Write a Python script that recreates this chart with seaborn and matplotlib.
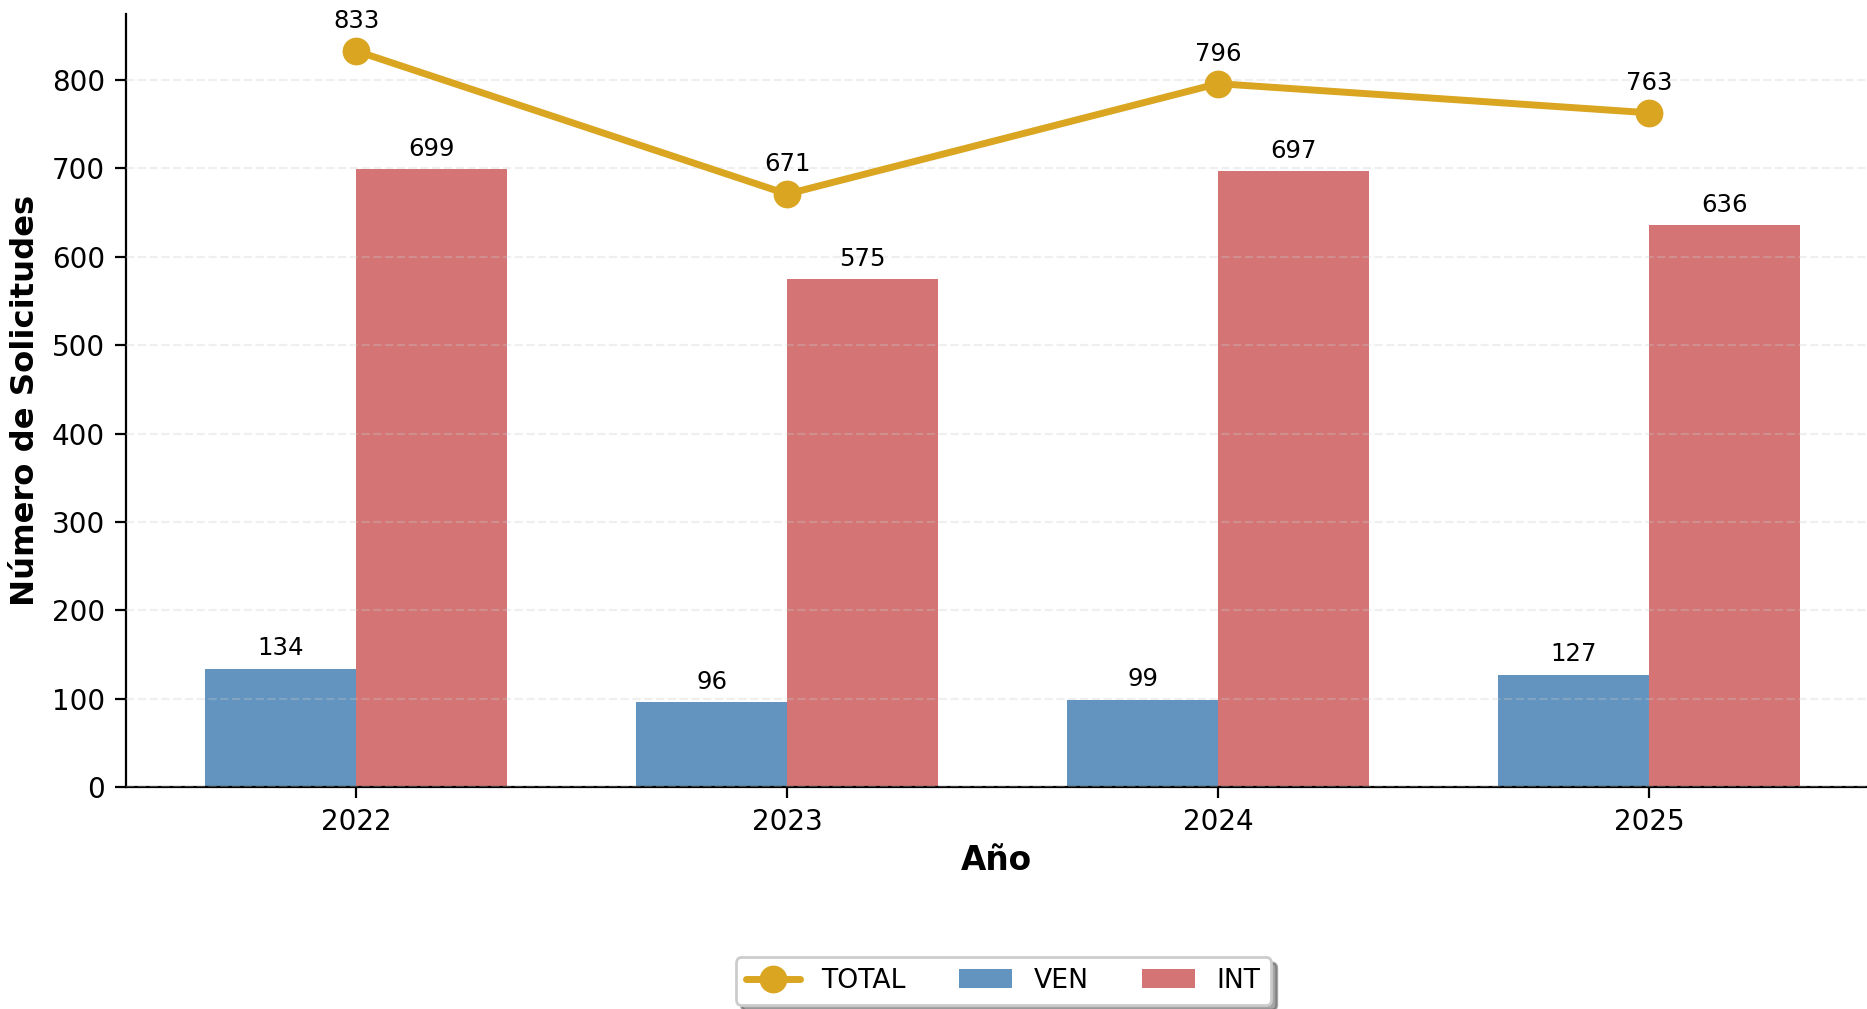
import numpy as np
import pandas as pd
import matplotlib
matplotlib.use("Agg")
import matplotlib.pyplot as plt
import seaborn as sns

# data
years = ["2022", "2023", "2024", "2025"]
ven = [134, 96, 99, 127]
intl = [699, 575, 697, 636]
total = [833, 671, 796, 763]

sns.set_style("white")
plt.rcParams["font.family"] = ["DejaVu Sans"]
plt.rcParams["text.color"] = "black"
plt.rcParams["axes.labelcolor"] = "black"
plt.rcParams["xtick.color"] = "black"
plt.rcParams["ytick.color"] = "black"
plt.rcParams["axes.edgecolor"] = "black"

df = pd.DataFrame({
    "Año": years * 2,
    "Tipo": ["VEN"] * 4 + ["INT"] * 4,
    "Solicitudes": ven + intl,
})

fig = plt.figure(figsize=(9.335, 5.045), dpi=200)
ax = fig.add_axes([0.0675, 0.22, 0.9325, 0.766])

sns.barplot(
    data=df,
    x="Año",
    y="Solicitudes",
    hue="Tipo",
    palette={"VEN": "steelblue", "INT": "indianred"},
    saturation=1,
    alpha=0.85,
    width=0.7,
    gap=0,
    linewidth=0,
    ax=ax,
)

sns.lineplot(
    x=np.arange(len(years)),
    y=total,
    color="#DAA520",
    linewidth=2.5,
    marker="o",
    markersize=10,
    markeredgewidth=0,
    label="TOTAL",
    ax=ax,
    zorder=5,
)

# labels on bars
for container in ax.containers:
    ax.bar_label(container, padding=3, fontsize=8.8)

# labels on total line
for i, v in enumerate(total):
    ax.annotate(str(v), (i, v), xytext=(0, 6.5), textcoords="offset points",
                ha="center", va="bottom", fontsize=8.8)

ax.set_xlim(-0.534, 3.506)
ax.set_ylim(0, 833 * 1.05)
ax.set_xlabel("Año", fontsize=11.8, fontweight="bold", labelpad=3)
ax.set_ylabel("Número de Solicitudes", fontsize=11.6, fontweight="bold")
ax.tick_params(axis="both", labelsize=10, length=4, width=0.8, left=True, bottom=True)

ax.yaxis.grid(True, linestyle="--", alpha=0.3)
ax.set_axisbelow(False)
sns.despine(ax=ax)

handles, labels = ax.get_legend_handles_labels()
order = [labels.index("TOTAL"), labels.index("VEN"), labels.index("INT")]
ax.legend(
    [handles[i] for i in order],
    [labels[i] for i in order],
    loc="upper center",
    bbox_to_anchor=(0.504, -0.203),
    ncol=3,
    fontsize=9.6,
    frameon=True,
    shadow=True,
)

plt.savefig("out.png", dpi=200)
